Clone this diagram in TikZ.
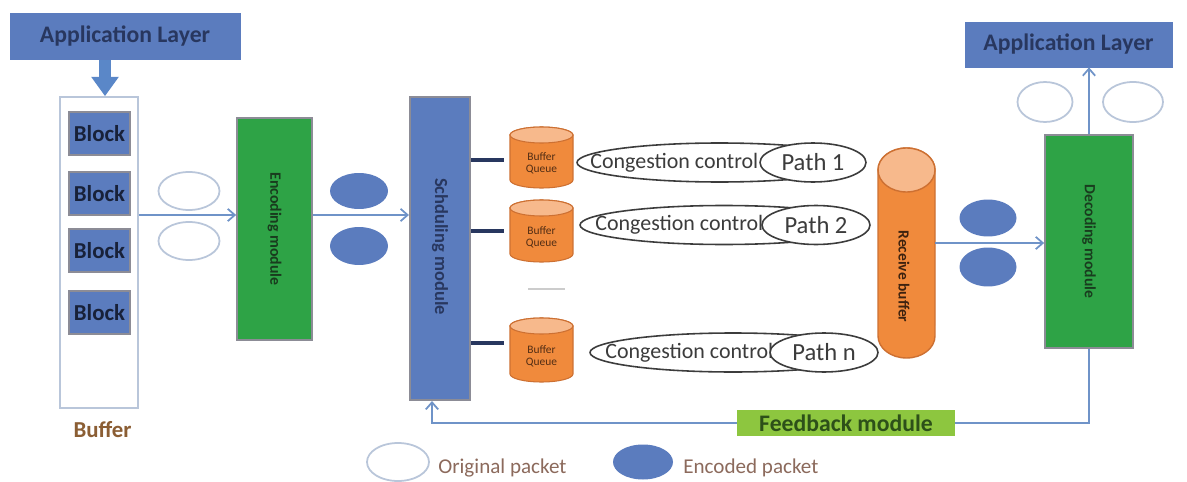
\documentclass[tikz,border=0pt]{standalone}
\usepackage{fontspec}
\setmainfont{Carlito}
\usetikzlibrary{arrows.meta,shapes.geometric}
\definecolor{blueF}{RGB}{91,124,190}
\definecolor{blueT}{RGB}{40,55,95}
\definecolor{blueArr}{RGB}{90,135,200}
\definecolor{greenF}{RGB}{46,163,70}
\definecolor{greenT}{RGB}{25,60,30}
\definecolor{lgreenF}{RGB}{141,198,63}
\definecolor{lgreenT}{RGB}{45,80,25}
\definecolor{orF}{RGB}{240,138,60}
\definecolor{orT}{RGB}{247,185,140}
\definecolor{orD}{RGB}{205,112,50}
\definecolor{connC}{RGB}{111,147,200}
\definecolor{ringC}{RGB}{185,198,218}
\definecolor{edgeC}{RGB}{140,140,150}
\definecolor{brownT}{RGB}{139,94,52}
\definecolor{legT}{RGB}{140,106,92}
\definecolor{ellD}{RGB}{60,60,60}
\newcommand\qcyl[3]{%
  \path[draw=orD, fill=orF, line width=0.6pt] ({#1-31.5},{#2-8}) -- ({#1-31.5},{#3+8})
    arc[start angle=180, end angle=360, x radius=0.63cm, y radius=0.16cm]
    -- ({#1+31.5},{#2-8})
    arc[start angle=0, end angle=180, x radius=0.63cm, y radius=0.16cm] -- cycle;
  \path[draw=orD, fill=orT, line width=0.6pt] (#1,{#2-8}) ellipse[x radius=0.63cm, y radius=0.16cm];}
\begin{document}
\begin{tikzpicture}[x=0.02cm, y=0.02cm,
  appbox/.style={rectangle, fill=blueF, draw=blueF, inner sep=0pt, text=blueT,
    font=\fontsize{13.5}{15}\selectfont\bfseries},
  bufbox/.style={rectangle, draw=ringC, fill=white, line width=1pt, inner sep=0pt,
    minimum width=1.56cm, minimum height=6.22cm},
  blockbox/.style={rectangle, fill=blueF, draw=edgeC, line width=1.2pt, inner sep=0pt,
    minimum width=1.22cm, minimum height=0.86cm, text=blueT!60!black,
    font=\fontsize{13}{15}\selectfont\bfseries},
  greenbox/.style={rectangle, fill=greenF, draw=edgeC, line width=1pt, inner sep=0pt},
  schbox/.style={rectangle, fill=blueF, draw=edgeC, line width=1.2pt, inner sep=0pt},
  vtext/.style={rotate=-90, inner sep=0pt},
  pkt/.style={ellipse, draw=ringC, fill=white, line width=1pt, inner sep=0pt},
  fpkt/.style={ellipse, fill=blueF, inner sep=0pt},
  conn/.style={draw=connC, line width=1pt, -{Straight Barb[length=4pt, width=7pt]}},
  fbline/.style={draw=connC, line width=1pt},
  qline/.style={draw=blueT, line width=2pt, shorten >=3pt},
  cong/.style={ellipse, draw=ellD, line width=0.9pt, inner sep=0pt, minimum height=0.78cm},
  pathe/.style={ellipse, draw=ellD, fill=white, line width=0.9pt, inner sep=0pt,
    minimum height=0.78cm, text=ellD, font=\fontsize{14}{16}\selectfont},
  ctext/.style={anchor=west, inner sep=0pt, text=ellD, font=\fontsize{12.5}{14}\selectfont},
  qtext/.style={align=center, inner sep=0pt, text=orD!40!black,
    font=\fontsize{6.5}{7}\selectfont},
  legtext/.style={anchor=west, inner sep=0pt, text=legT, font=\fontsize{12}{14}\selectfont}
]
\fill[white] (0,0) rectangle (1187,481);
\useasboundingbox (0,0) rectangle (1187,481);

% left application layer and buffer
\node[appbox, minimum width=4.6cm, minimum height=0.92cm] (appL) at (125,444.5) {Application Layer};
\node[bufbox] (buf) at (99,228.5) {};
\node[blockbox] (b1) at (99.5,347.5) {Block};
\node[blockbox] (b2) at (99.5,287.5) {Block};
\node[blockbox] (b3) at (99.5,230.5) {Block};
\node[blockbox] (b4) at (99.5,168.5) {Block};
\node[inner sep=0pt, text=brownT, font=\fontsize{13}{15}\selectfont\bfseries] (buflbl) at (102.5,51) {Buffer};
\draw[draw=blueArr, line width=6.8pt, -{Triangle[width=15pt, length=11pt]}]
  (105,0 |- appL.south) -- (105,0 |- buf.north);

% encoding
\node[pkt, minimum width=1.22cm, minimum height=0.76cm] (p1) at (189,290) {};
\node[pkt, minimum width=1.22cm, minimum height=0.76cm] (p2) at (189,240) {};
\node[greenbox, minimum width=1.5cm, minimum height=4.44cm] (enc) at (274.5,252) {};
\node[vtext, text=greenT, font=\fontsize{9}{10}\selectfont\bfseries] (enct) at (enc.center) {Encoding module};
\node[fpkt, minimum width=1.16cm, minimum height=0.72cm] (f1) at (359,290) {};
\node[fpkt, minimum width=1.16cm, minimum height=0.76cm] (f2) at (359,235) {};
\draw[conn] (buf.east |- 0,266) -- (enc.west |- 0,266);

% scheduling
\node[schbox, minimum width=1.2cm, minimum height=6.06cm] (sch) at (440,232.5) {};
\node[vtext, text=blueT, font=\fontsize{10.5}{12}\selectfont\bfseries] (scht) at (440,234.5) {Schduling module};
\draw[conn] (enc.east |- 0,266) -- (sch.west |- 0,266);

% buffer queues
\qcyl{541.5}{354}{293}
\qcyl{541.5}{281}{219}
\qcyl{541.5}{163}{99}
\node[inner sep=0pt, minimum width=1.26cm, minimum height=1.22cm] (q1) at (541.5,323.5) {};
\node[inner sep=0pt, minimum width=1.26cm, minimum height=1.24cm] (q2) at (541.5,250) {};
\node[inner sep=0pt, minimum width=1.26cm, minimum height=1.28cm] (q3) at (541.5,131) {};
\node[qtext] (q1t) at (541.5,317.5) {Buffer\\Queue};
\node[qtext] (q2t) at (541.5,244) {Buffer\\Queue};
\node[qtext] (q3t) at (541.5,125) {Buffer\\Queue};
\draw[qline] (sch.east |- 0,321) -- (q1.west |- 0,321);
\draw[qline] (sch.east |- 0,250) -- (q2.west |- 0,250);
\draw[qline] (sch.east |- 0,138) -- (q3.west |- 0,138);
\draw[black!20, line width=1pt] (528,192) -- (565,192);

% congestion control / paths
\node[cong, minimum width=5.7cm] (c1) at (719.5,318.5) {};
\node[ctext] (c1t) at (590,318.5) {Congestion control};
\node[pathe, minimum width=2.12cm] (pa1) at (813,318.5) {Path 1};
\node[cong, minimum width=5.76cm] (c2) at (724,256) {};
\node[ctext] (c2t) at (595,256) {Congestion control};
\node[pathe, minimum width=2.16cm] (pa2) at (816,256) {Path 2};
\node[cong, minimum width=5.72cm] (c3) at (733,128.5) {};
\node[ctext] (c3t) at (605,128.5) {Congestion control};
\node[pathe, minimum width=2.16cm] (pa3) at (824,128.5) {Path n};

% receive buffer
\path[draw=orD, fill=orF, line width=0.8pt] (878,311) -- (878,145)
  arc[start angle=180, end angle=360, x radius=0.57cm, y radius=0.44cm]
  -- (935,311)
  arc[start angle=0, end angle=180, x radius=0.57cm, y radius=0.44cm] -- cycle;
\path[draw=orD, fill=orT, line width=0.8pt] (906.5,311) ellipse[x radius=0.57cm, y radius=0.44cm];
\node[inner sep=0pt, minimum width=1.14cm, minimum height=4.2cm] (rb) at (906.5,228) {};
\node[vtext, text=orD!30!black, font=\fontsize{8.8}{10}\selectfont\bfseries] (rbt) at (904,204.5) {Receive buffer};

% decoding
\node[fpkt, minimum width=1.14cm, minimum height=0.74cm] (f3) at (988,263) {};
\node[fpkt, minimum width=1.14cm, minimum height=0.78cm] (f4) at (988,214) {};
\node[greenbox, minimum width=1.76cm, minimum height=4.26cm] (dec) at (1089,239.5) {};
\node[vtext, text=greenT, font=\fontsize{8.9}{10}\selectfont\bfseries] (dect) at (dec.center) {Decoding module};
\draw[conn] (rb.east |- 0,238) -- (dec.west |- 0,238);

% right application layer
\node[appbox, minimum width=4.14cm, minimum height=0.9cm] (appR) at (1068.5,436.5) {Application Layer};
\node[pkt, minimum width=1.1cm, minimum height=0.8cm] (p3) at (1045,379) {};
\node[pkt, minimum width=1.2cm, minimum height=0.8cm] (p4) at (1133,379) {};
\draw[conn] (dec.north) -- (appR.south -| dec.north);

% feedback
\node[rectangle, fill=lgreenF, inner sep=0pt, minimum width=4.36cm, minimum height=0.52cm,
  text=lgreenT, font=\fontsize{13.5}{15}\selectfont\bfseries] (fb) at (846,58) {Feedback module};
\draw[fbline] (dec.south) |- (fb.east);
\draw[conn] (fb.west) -| (432,0 |- sch.south);

% legend
\node[pkt, minimum width=1.24cm, minimum height=0.76cm] (lg1) at (398,19) {};
\node[legtext] (lg1t) at (438,13) {Original packet};
\node[fpkt, minimum width=1.2cm, minimum height=0.7cm] (lg2) at (643,19) {};
\node[legtext] (lg2t) at (683,13) {Encoded packet};
\end{tikzpicture}
\end{document}
